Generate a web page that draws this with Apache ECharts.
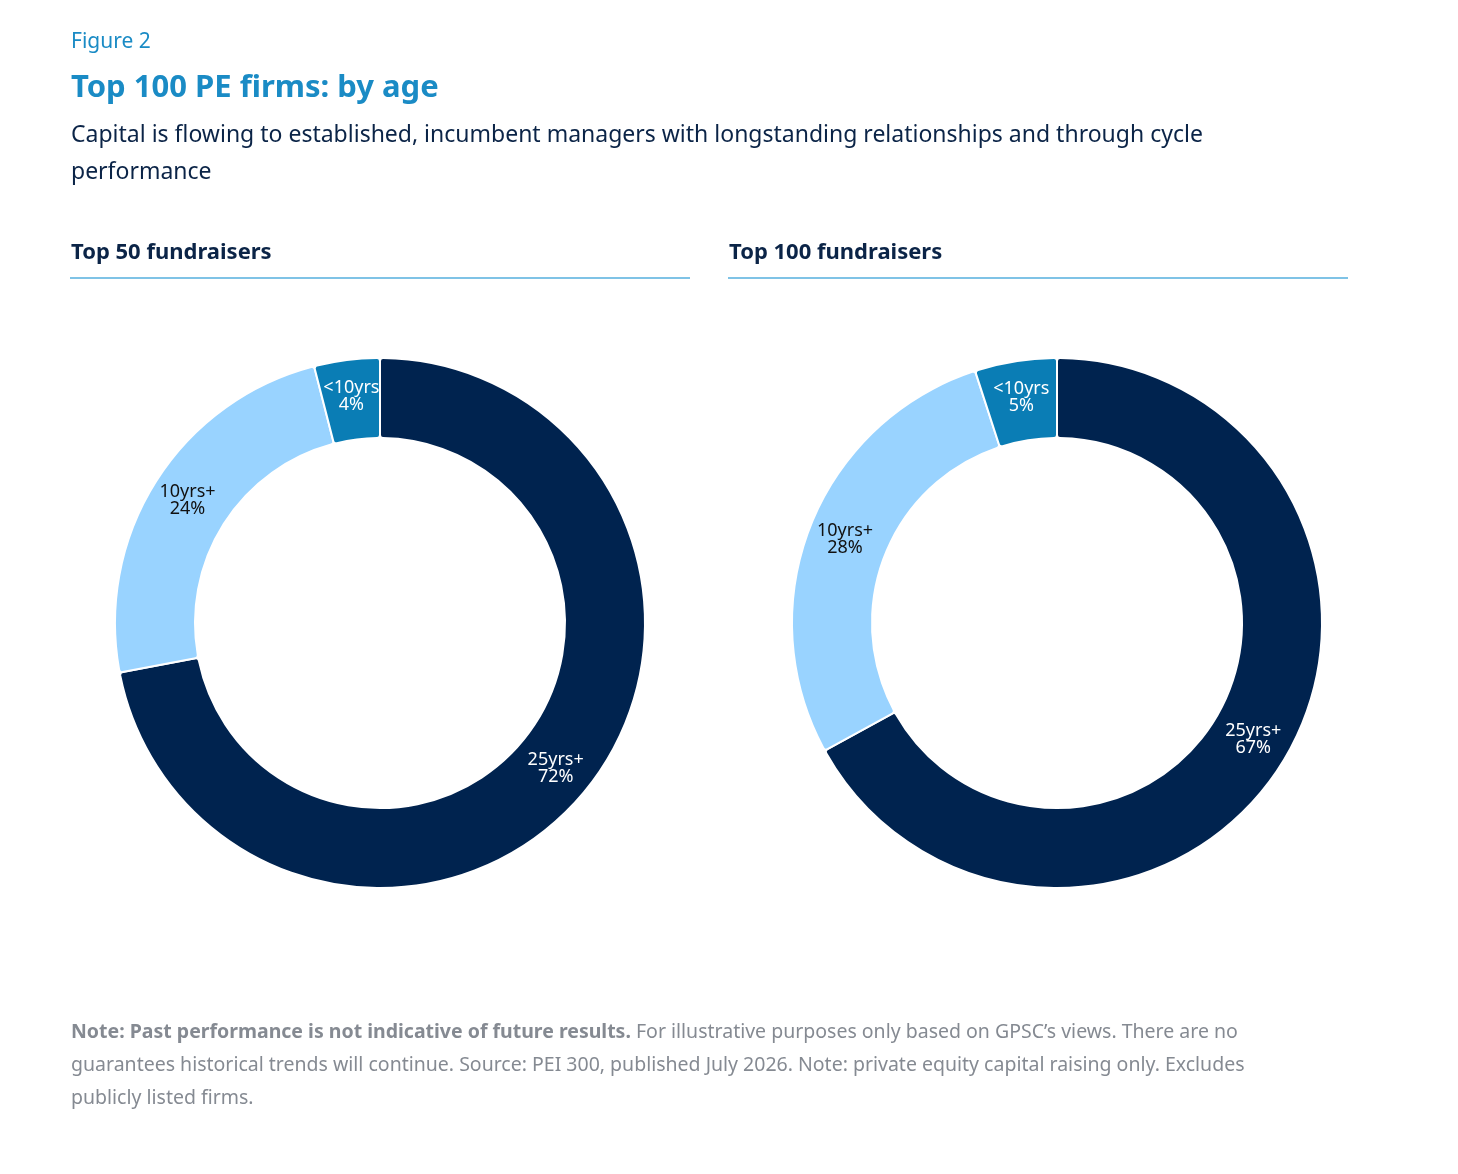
<!DOCTYPE html>
<html><head><meta charset="utf-8">
<script src="https://cdn.jsdelivr.net/npm/echarts@6/dist/echarts.min.js"></script>
<style>
body{margin:0;background:#fff;font-family:"Noto Sans",sans-serif;}
#c{position:absolute;left:0;top:0;width:1458px;height:1174px;}
.t{position:absolute;margin:0;}
</style></head><body>
<div id="c"></div>
<div class="t" style="left:71px;top:26px;font-size:21px;color:#1a8bc5;">Figure 2</div>
<div class="t" style="left:71px;top:64px;font-size:31px;font-weight:bold;color:#1a8bc5;">Top 100 PE firms: by age</div>
<div class="t" style="left:71px;top:115px;font-size:23px;line-height:37px;color:#0b2447;width:1180px;">Capital is flowing to established, incumbent managers with longstanding relationships and through cycle performance</div>
<div class="t" style="left:71px;top:235px;font-size:22px;font-weight:bold;color:#0b2447;">Top 50 fundraisers</div>
<div class="t" style="left:729px;top:235px;font-size:22px;font-weight:bold;color:#0b2447;">Top 100 fundraisers</div>
<div class="t" style="left:70px;top:277px;width:620px;height:2px;background:#7fc3e6;"></div>
<div class="t" style="left:728px;top:277px;width:620px;height:2px;background:#7fc3e6;"></div>
<div class="t" style="left:71px;top:1014px;font-size:19.5px;line-height:33px;color:#858a92;width:1210px;"><b>Note: Past performance is not indicative of future results.</b> For illustrative purposes only based on GPSC’s views. There are no guarantees historical trends will continue. Source: PEI 300, published July 2026. Note: private equity capital raising only. Excludes publicly listed firms.</div>
<script>
const categories = ["25yrs+", "10yrs+", "<10yrs"];
const top50 = [72, 24, 4];
const top100 = [67, 28, 5];
const colors = ["#00234f", "#99d3ff", "#0a7db5"];
const labelColors = ["#ffffff", "#111111", "#ffffff"];
function mk(vals, cx){
  return {type:'pie', center:[cx,623], radius:[185,265], startAngle:90, clockwise:true,
    itemStyle:{borderColor:'#fff', borderWidth:2, borderRadius:3},
    label:{show:true, position:'inside', fontFamily:'Noto Sans', fontSize:18, lineHeight:17,
      formatter:p=>p.name+'\n'+p.value+'%'},
    labelLine:{show:false}, silent:true,
    data:vals.map((v,i)=>({name:categories[i], value:v, itemStyle:{color:colors[i]}, label:{color:labelColors[i]}}))};
}
const ch = echarts.init(document.getElementById('c'));
ch.setOption({animation:false, series:[mk(top50,380), mk(top100,1057)]});
</script></body></html>
